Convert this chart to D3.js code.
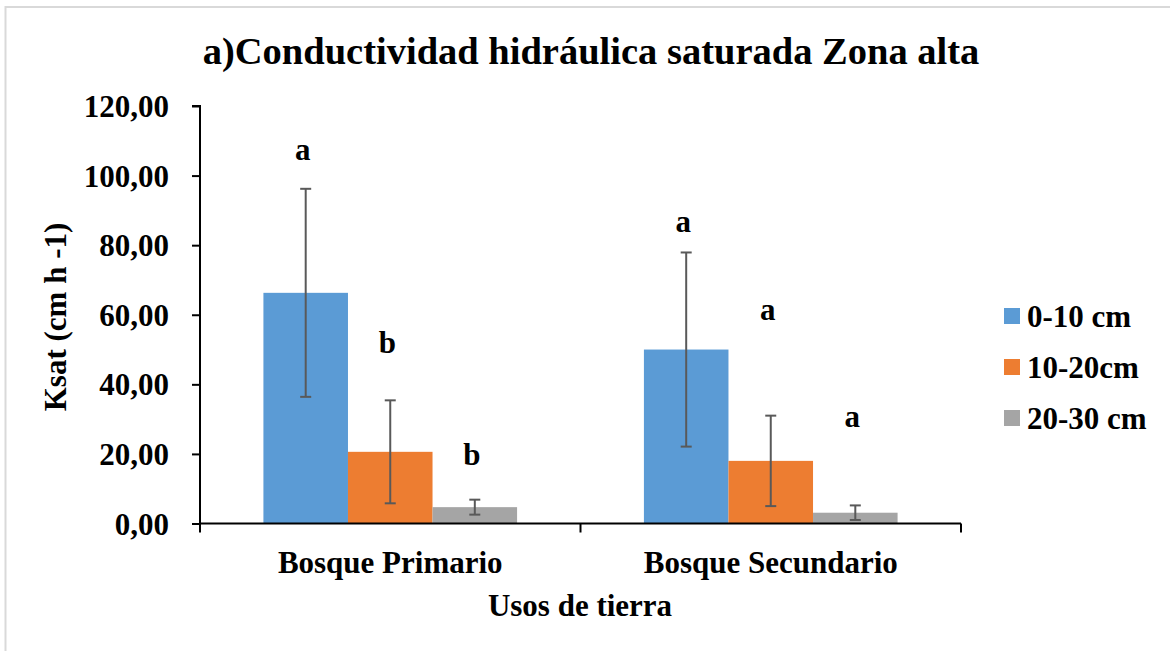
<!DOCTYPE html>
<html>
<head>
<meta charset="utf-8">
<script src="https://cdn.jsdelivr.net/npm/d3@7.9.0/dist/d3.min.js"></script>
<style>
  html, body { margin: 0; padding: 0; background: #fff; }
  svg { display: block; font-family: "Liberation Serif", "Times New Roman", serif; font-weight: bold; }
</style>
</head>
<body>
<svg id="chart" width="1170" height="651"></svg>
<script>
// data
const categories = ["Bosque Primario", "Bosque Secundario"];
const depths = ["0-10 cm", "10-20cm", "20-30 cm"];
const means = [
  [66.3, 20.6, 4.7],
  [50.0, 18.0, 3.1]
];
const errors = [
  [29.9, 14.8, 2.15],
  [27.9, 13.0, 2.1]
];
const letters = [
  ["a", "b", "b"],
  ["a", "a", "a"]
];
// letter baseline heights in axis units
const letterAt = [
  [104.5, 49.0, 16.8],
  [83.9, 58.5, 27.8]
];
const yTicks = [0, 20, 40, 60, 80, 100, 120];

const colors = d3.scaleOrdinal().domain(depths).range(["#5B9BD5", "#ED7D31", "#A5A5A5"]);

const svg = d3.select("#chart");
const W = 1170, H = 651;
const plot = { left: 200, right: 961, top: 106, bottom: 523.5 };

// outer frame (light gray, only top & left visible)
svg.append("path")
  .attr("d", `M5.5,${H} L5.5,7 L${W},7`)
  .attr("fill", "none")
  .attr("stroke", "#d9d9d9")
  .attr("stroke-width", 2);

const x0 = d3.scaleBand().domain(categories).range([plot.left, plot.right]).paddingInner(0).paddingOuter(0);
const x1 = d3.scaleBand().domain(depths).range([0, x0.bandwidth()]).paddingInner(0).paddingOuter(0.75);
const y = d3.scaleLinear().domain([0, 120]).range([plot.bottom, plot.top]);

// bars
const groups = svg.append("g").selectAll("g")
  .data(categories)
  .join("g")
  .attr("transform", d => `translate(${x0(d)},0)`);

groups.each(function (cat, ci) {
  const g = d3.select(this);
  const rows = depths.map((dep, di) => ({
    dep, v: means[ci][di], e: errors[ci][di], l: letters[ci][di], la: letterAt[ci][di]
  }));

  g.selectAll("rect")
    .data(rows)
    .join("rect")
    .attr("x", d => x1(d.dep))
    .attr("y", d => y(d.v))
    .attr("width", x1.bandwidth())
    .attr("height", d => y(0) - y(d.v))
    .attr("fill", d => colors(d.dep));

  const eb = g.selectAll("g.err").data(rows).join("g").attr("class", "err")
    .attr("transform", d => `translate(${x1(d.dep) + x1.bandwidth() / 2},0)`)
    .attr("stroke", "#595959").attr("stroke-width", 2);
  eb.append("line").attr("y1", d => y(d.v + d.e)).attr("y2", d => y(Math.max(0, d.v - d.e)));
  eb.append("line").attr("x1", -5.5).attr("x2", 5.5).attr("y1", d => y(d.v + d.e)).attr("y2", d => y(d.v + d.e));
  eb.append("line").attr("x1", -5.5).attr("x2", 5.5).attr("y1", d => y(Math.max(0, d.v - d.e))).attr("y2", d => y(Math.max(0, d.v - d.e)));

  g.selectAll("text.letter")
    .data(rows)
    .join("text")
    .attr("class", "letter")
    .attr("x", d => x1(d.dep) + x1.bandwidth() / 2 - 3)
    .attr("y", d => y(d.la))
    .attr("text-anchor", "middle")
    .attr("font-size", 31)
    .text(d => d.l);
});

// y axis
const fmt = v => d3.format(".2f")(v).replace(".", ",");
const yAxis = svg.append("g")
  .attr("transform", `translate(${plot.left},0)`)
  .call(d3.axisLeft(y).tickValues(yTicks).tickFormat(fmt).tickSize(8).tickPadding(23));
yAxis.select(".domain").attr("stroke", "#000").attr("stroke-width", 2).attr("d", `M-8,${plot.top}H0V${plot.bottom}`);
yAxis.selectAll(".tick line").attr("stroke", "#000").attr("stroke-width", 2);
yAxis.selectAll(".tick text")
  .attr("font-family", "Liberation Serif, serif")
  .attr("font-weight", "bold")
  .attr("font-size", 31)
  .attr("fill", "#000")
  .attr("dy", "0.34em");

// x axis
const xAxis = svg.append("g")
  .attr("transform", `translate(0,${plot.bottom})`);
xAxis.append("line")
  .attr("x1", plot.left).attr("x2", plot.right)
  .attr("stroke", "#000").attr("stroke-width", 2);
xAxis.selectAll("line.tk")
  .data([plot.left, ...categories.map(c => x0(c) + x0.bandwidth())])
  .join("line")
  .attr("class", "tk")
  .attr("x1", d => d).attr("x2", d => d)
  .attr("y1", 0).attr("y2", 9)
  .attr("stroke", "#000").attr("stroke-width", 2);
xAxis.selectAll("text")
  .data(categories)
  .join("text")
  .attr("x", d => x0(d) + x0.bandwidth() / 2)
  .attr("y", 49)
  .attr("text-anchor", "middle")
  .attr("font-size", 31)
  .text(d => d);

// titles
svg.append("text")
  .attr("x", 591).attr("y", 64)
  .attr("text-anchor", "middle")
  .attr("font-size", 38.5)
  .text("a)Conductividad hidráulica saturada Zona alta");

svg.append("text")
  .attr("x", 580).attr("y", 616)
  .attr("text-anchor", "middle")
  .attr("font-size", 31)
  .text("Usos de tierra");

svg.append("text")
  .attr("transform", `translate(66,317) rotate(-90)`)
  .attr("text-anchor", "middle")
  .attr("font-size", 31)
  .text("Ksat (cm h -1)");

// legend
const legend = svg.append("g").attr("transform", "translate(1004,316)");
const li = legend.selectAll("g").data(depths).join("g")
  .attr("transform", (d, i) => `translate(0,${i * 51})`);
li.append("rect").attr("x", 0).attr("y", -8).attr("width", 16).attr("height", 16).attr("fill", d => colors(d));
li.append("text").attr("x", 23).attr("y", 0).attr("dy", "0.34em").attr("font-size", 31).text(d => d);
</script>
</body>
</html>
